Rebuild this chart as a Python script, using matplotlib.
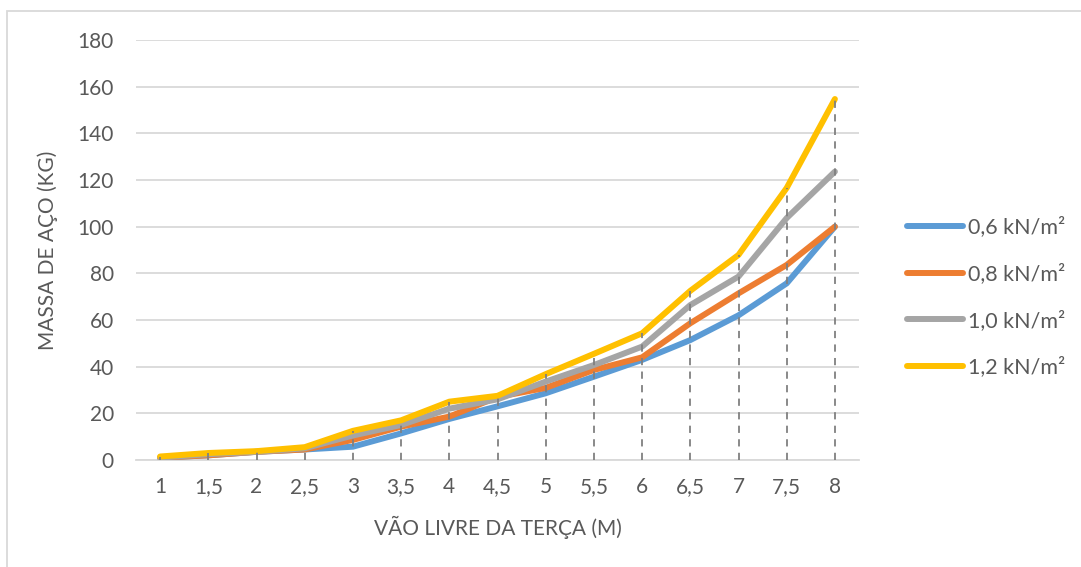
import matplotlib.pyplot as plt
from matplotlib.lines import Line2D

# Dados
vaos = ['1', '1,5', '2', '2,5', '3', '3,5', '4', '4,5', '5', '5,5', '6', '6,5', '7', '7,5', '8']
carga_06 = [1, 2, 3.5, 4.5, 5.7, 11.4, 17.6, 23, 28.6, 35.7, 42.9, 51.4, 62, 75.7, 100]
carga_08 = [1, 2, 3.5, 4.5, 8.6, 14.3, 18.6, 27, 30.9, 38.6, 44, 58.6, 71.4, 83.6, 100]
carga_10 = [1, 2.5, 3.5, 5, 10.5, 15, 22, 26, 33.6, 40.7, 48.6, 66.4, 78.6, 103.7, 123.6]
carga_12 = [1.5, 3, 3.8, 5.5, 12.5, 17, 25, 27.5, 36.8, 45.5, 54.3, 72.5, 87.9, 116.6, 154.7]
nomes = ['0,6 kN/m²', '0,8 kN/m²', '1,0 kN/m²', '1,2 kN/m²']
cores = ['#5b9bd5', '#ed7d31', '#a5a5a5', '#ffc000']

plt.rcParams['font.family'] = ['Lato', 'DejaVu Sans']
txt = '#595959'

fig = plt.figure(figsize=(10.81, 5.67), dpi=100)
ax = fig.add_axes([136 / 1081, 1 - 460 / 567, (859 - 136) / 1081, 420 / 567])

x = list(range(len(vaos)))
series = [carga_06, carga_08, carga_10, carga_12]
for s, nome, cor in zip(series, nomes, cores):
    ax.plot(x, s, color=cor, lw=4.3, solid_capstyle='round', solid_joinstyle='round', label=nome, zorder=3)

# linhas de queda (do maior valor até o eixo)
topo = [max(v) for v in zip(*series)]
ax.vlines(x, 0, topo, colors='#808080', linestyles=(0, (4, 3.5)), lw=1.3, zorder=4)

ax.set_xlim(-0.5, len(vaos) - 0.5)
ax.set_ylim(0, 180)
ax.set_yticks(range(0, 181, 20))
ax.set_xticks(x)
ax.set_xticklabels(vaos)
ax.grid(axis='y', color='#d9d9d9', lw=1.3, zorder=0)
for sp in ['top', 'right', 'left']:
    ax.spines[sp].set_visible(False)
ax.spines['bottom'].set_color('#d9d9d9')
ax.spines['bottom'].set_linewidth(1.3)
ax.tick_params(length=0, labelsize=15, colors=txt)
ax.tick_params(axis='x', pad=12)
ax.tick_params(axis='y', pad=16)

ax.set_xlabel('VÃO LIVRE DA TERÇA (M)', fontsize=15, color=txt, labelpad=14)
ax.set_ylabel('MASSA DE AÇO (KG)', fontsize=15, color=txt, labelpad=14)

handles = [Line2D([0], [0], color=c, lw=4.3, solid_capstyle='round') for c in cores]
leg = fig.legend(handles, nomes, loc='center left', bbox_to_anchor=(888 / 1081, 1 - 297 / 567),
                 frameon=False, fontsize=15.5, labelcolor=txt, handlelength=2.6,
                 handletextpad=0.2, labelspacing=1.2)

# borda da área do gráfico
fig.add_artist(plt.Rectangle((7 / 1081, -0.01), 1.1, 1 - 11 / 567 + 0.01, transform=fig.transFigure,
                             fill=False, ec='#d9d9d9', lw=1.3))

fig.savefig('out.png', dpi=100)
